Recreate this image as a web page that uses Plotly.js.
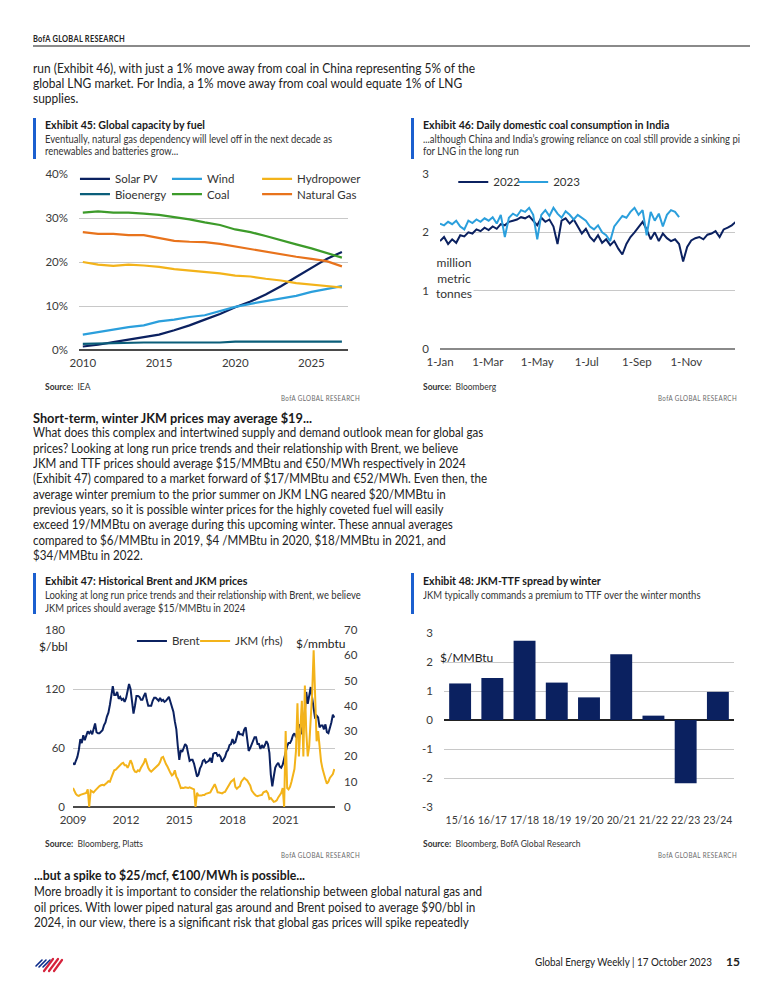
<!DOCTYPE html>
<html><head><meta charset="utf-8">
<script src="https://cdn.plot.ly/plotly-3.0.1.min.js"></script>
<style>
html,body{margin:0;padding:0;background:#fff;}
#page{position:relative;width:775px;height:1003px;overflow:hidden;background:#fff;font-family:Lato,"Liberation Sans",sans-serif;color:#222;}
.t{position:absolute;white-space:nowrap;width:max-content;transform-origin:0 0;}
.t > div{width:max-content;}
.bar{position:absolute;width:3px;background:#1b5fcf;}
.chart{position:absolute;}
.ttl{font-weight:bold;font-size:12px;line-height:14px;color:#1a1a1a;}
.sub{font-size:11px;line-height:12.8px;color:#333;}
.src{font-size:8.5px;line-height:10px;color:#333;}
.bofa{font-size:8px;line-height:10px;color:#6a6a6a;letter-spacing:0.5px;}
.body{font-size:13.5px;color:#222;}
.head{font-weight:bold;font-size:14px;line-height:16px;color:#1a1a1a;}
</style></head>
<body><div id="page">

<div class="t" data-w="92" style="left:33px;top:34px;font-size:8.5px;line-height:10px;font-weight:bold;letter-spacing:0.3px;color:#222;">BofA GLOBAL RESEARCH</div>
<div style="position:absolute;left:33px;top:45px;width:717px;height:2px;background:#8a8a8a;"></div>

<div class="t body" data-w="442" style="left:33px;top:60.8px;line-height:15px;">
<div>run (Exhibit 46), with just a 1% move away from coal in China representing 5% of the</div>
<div>global LNG market. For India, a 1% move away from coal would equate 1% of LNG</div>
<div>supplies.</div>
</div>

<!-- Exhibit 45 -->
<div class="bar" style="left:33px;top:118px;height:41px;"></div>
<div class="t ttl" id="ttl45" data-w="160" style="left:45px;top:118px;">Exhibit 45: Global capacity by fuel</div>
<div class="t sub" id="sub45" data-w="287" style="left:45px;top:132.6px;">
<div>Eventually, natural gas dependency will level off in the next decade as</div>
<div>renewables and batteries grow...</div>
</div>
<div id="c45" class="chart" style="left:30px;top:165px;width:340px;height:215px;"></div>
<div class="t src" style="left:45px;top:382px;"><b>Source:</b>&nbsp; IEA</div>
<div class="t bofa" id="bofa45" data-w="79" style="left:281px;top:393px;">BofA GLOBAL RESEARCH</div>

<!-- Exhibit 46 -->
<div class="bar" style="left:411px;top:118px;height:41px;"></div>
<div class="t ttl" data-like="ttl45" style="left:423px;top:118px;">Exhibit 46: Daily domestic coal consumption in India</div>
<div class="t sub" data-w="317" style="left:423px;top:132.6px;">
<div>...although China and India’s growing reliance on coal still provide a sinking pi</div>
<div>for LNG in the long run</div>
</div>
<div id="c46" class="chart" style="left:405px;top:165px;width:345px;height:215px;"></div>
<div class="t src" style="left:423px;top:382px;"><b>Source:</b>&nbsp; Bloomberg</div>
<div class="t bofa" data-like="bofa45" style="left:658px;top:393px;">BofA GLOBAL RESEARCH</div>

<!-- Short-term -->
<div class="t head" data-w="279" style="left:33px;top:409.7px;">Short-term, winter JKM prices may average $19...</div>
<div class="t body" data-w="454" style="left:33px;top:425.3px;line-height:15.35px;">
<div>What does this complex and intertwined supply and demand outlook mean for global gas</div>
<div>prices? Looking at long run price trends and their relationship with Brent, we believe</div>
<div>JKM and TTF prices should average $15/MMBtu and €50/MWh respectively in 2024</div>
<div>(Exhibit 47) compared to a market forward of $17/MMBtu and €52/MWh. Even then, the</div>
<div>average winter premium to the prior summer on JKM LNG neared $20/MMBtu in</div>
<div>previous years, so it is possible winter prices for the highly coveted fuel will easily</div>
<div>exceed 19/MMBtu on average during this upcoming winter. These annual averages</div>
<div>compared to $6/MMBtu in 2019, $4 /MMBtu in 2020, $18/MMBtu in 2021, and</div>
<div>$34/MMBtu in 2022.</div>
</div>

<!-- Exhibit 47 -->
<div class="bar" style="left:33px;top:573px;height:41px;"></div>
<div class="t ttl" data-like="ttl45" style="left:45px;top:574px;">Exhibit 47: Historical Brent and JKM prices</div>
<div class="t sub" data-like="sub45" style="left:45px;top:589px;">
<div>Looking at long run price trends and their relationship with Brent, we believe</div>
<div>JKM prices should average $15/MMBtu in 2024</div>
</div>
<div id="c47" class="chart" style="left:30px;top:620px;width:340px;height:215px;"></div>
<div class="t src" style="left:45px;top:839px;"><b>Source:</b>&nbsp; Bloomberg, Platts</div>
<div class="t bofa" data-like="bofa45" style="left:281px;top:850px;">BofA GLOBAL RESEARCH</div>

<!-- Exhibit 48 -->
<div class="bar" style="left:411px;top:573px;height:41px;"></div>
<div class="t ttl" data-like="ttl45" style="left:423px;top:574px;">Exhibit 48: JKM-TTF spread by winter</div>
<div class="t sub" data-like="sub45" style="left:423px;top:589px;">
<div>JKM typically commands a premium to TTF over the winter months</div>
</div>
<div id="c48" class="chart" style="left:405px;top:620px;width:345px;height:215px;"></div>
<div class="t src" style="left:423px;top:839px;"><b>Source:</b>&nbsp; Bloomberg, BofA Global Research</div>
<div class="t bofa" data-like="bofa45" style="left:658px;top:850px;">BofA GLOBAL RESEARCH</div>

<!-- spike -->
<div class="t head" data-w="271" style="left:34px;top:867px;">...but a spike to $25/mcf, €100/MWh is possible...</div>
<div class="t body" data-w="448" style="left:34px;top:884.4px;line-height:15.2px;">
<div>More broadly it is important to consider the relationship between global natural gas and</div>
<div>oil prices. With lower piped natural gas around and Brent poised to average $90/bbl in</div>
<div>2024, in our view, there is a significant risk that global gas prices will spike repeatedly</div>
</div>

<!-- footer -->
<svg style="position:absolute;left:34px;top:955px;" width="30" height="18" viewBox="0 0 30 18">
<g stroke-linecap="round">
<line x1="2" y1="11" x2="8" y2="5" stroke="#0a2a8a" stroke-width="1.6"/>
<line x1="5" y1="12" x2="12" y2="5" stroke="#0a2a8a" stroke-width="1.6"/>
<line x1="9" y1="12" x2="16" y2="5" stroke="#0a2a8a" stroke-width="1.6"/>
<line x1="10" y1="16" x2="19" y2="4" stroke="#d6223b" stroke-width="2.2"/>
<line x1="15" y1="16" x2="24" y2="4" stroke="#d6223b" stroke-width="2.2"/>
<line x1="20" y1="16" x2="28" y2="5" stroke="#d6223b" stroke-width="2.2"/>
</g></svg>
<div class="t" data-w="177" style="left:535px;top:955px;font-size:12px;line-height:14px;color:#222;">Global Energy Weekly | 17 October 2023</div>
<div class="t" style="left:726px;top:955px;font-size:12px;line-height:14px;font-weight:bold;color:#222;">15</div>

</div>
<script>
// ---------- Exhibit 45 data ----------
const years45 = [2010,2011,2012,2013,2014,2015,2016,2017,2018,2019,2020,2021,2022,2023,2024,2025,2026,2027];
const solarPV = [0.8,1.2,1.8,2.4,3.0,3.5,4.5,5.6,6.9,8.2,9.7,11.0,12.6,14.5,16.6,18.7,20.7,22.3];
const wind = [3.5,4.1,4.7,5.2,5.6,6.5,6.9,7.5,7.9,8.8,9.8,10.5,11.1,11.7,12.3,13.2,13.9,14.5];
const hydropower = [20.0,19.4,19.1,19.4,19.2,18.9,18.4,18.1,17.8,17.4,16.9,16.7,16.2,15.8,15.2,14.9,14.6,14.2];
const bioenergy = [1.4,1.5,1.6,1.6,1.7,1.7,1.7,1.7,1.7,1.7,1.9,1.9,1.9,1.9,1.9,1.9,1.9,1.9];
const coal = [31.2,31.5,31.2,31.2,31.0,30.7,30.2,29.7,29.0,28.4,27.4,26.8,25.9,24.9,24.0,23.1,22.1,21.0];
const naturalGas = [26.8,26.4,26.4,26.1,26.1,25.4,24.8,24.6,24.5,24.1,23.5,22.9,22.3,21.8,21.2,20.7,20.2,19.0];

// ---------- Exhibit 46 data (million metric tonnes, every 5 days from 1-Jan) ----------
const coal2022 = [1.85,1.92,1.80,1.88,1.82,1.95,1.93,2.00,1.98,2.05,
 2.02,2.08,2.04,2.10,2.06,2.14,2.12,2.18,2.20,2.22,
 2.26,2.24,2.28,2.20,2.12,2.25,2.18,2.22,2.10,1.80,
 2.20,2.24,2.15,2.22,2.10,1.98,2.06,1.92,1.85,1.95,
 1.82,1.88,1.78,1.85,1.72,1.62,1.80,1.92,2.00,2.10,
 2.18,2.05,1.88,2.00,1.85,1.98,1.90,1.85,1.88,1.80,
 1.50,1.75,1.86,1.90,1.92,1.88,1.96,1.98,2.02,1.92,
 2.05,2.08,2.12,2.18];
const coal2023 = [2.15,2.12,2.18,2.14,2.20,2.10,2.05,2.20,2.16,2.22,
 2.18,2.24,2.20,2.26,2.15,2.30,1.92,2.25,2.32,2.28,
 2.38,2.35,2.42,2.30,1.88,2.30,2.38,2.28,2.42,2.32,
 2.25,2.36,2.30,2.22,2.30,2.25,2.20,2.10,2.05,2.12,
 2.00,1.95,1.85,2.10,2.20,2.28,2.25,2.35,2.42,2.30,
 2.38,1.95,2.35,2.20,2.32,2.10,2.30,2.38,2.35,2.26];
const coalStart = '2022-01-01';
const coalStepDays = 5;

// ---------- Exhibit 47 data (monthly from Jan 2009) ----------
const brent = [
 45,43,47,51,58,69,65,73,68,73,77,75,
 77,74,79,85,76,75,75,77,78,83,86,92,
 96,104,114,123,114,114,117,110,112,109,110,107,
 111,119,125,120,110,95,103,113,113,112,109,109,
 113,116,109,103,103,103,108,111,111,109,108,111,
 108,109,107,108,110,112,107,102,97,87,79,62,
 48,58,56,60,64,62,56,47,48,48,44,38,
 31,33,39,42,47,48,45,46,47,50,45,54,
 55,55,52,53,51,46,49,51,56,58,63,64,
 69,65,66,72,77,74,74,73,79,81,65,57,
 60,64,67,71,71,64,64,59,63,60,63,67,
 64,55,33,21,31,40,43,45,41,40,43,50,
 55,62,65,65,68,73,75,71,74,84,81,74,
 87,97,117,105,113,122,111,100,90,93,91,81,
 83,83,79,84,76,75,80,86,94,91];
const jkm = [
 7.5,6.2,5.2,4.6,4.4,4.8,5.0,5.3,5.2,5.6,7.0,0,
 6.5,6.0,5.8,6.5,7.2,7.8,8.3,8.6,8.8,8.6,9.0,9.6,
 10.2,10.0,11.5,13.5,14.5,14.8,15.5,16.0,16.8,17.2,17.5,16.5,
 16.5,15.5,16.8,18.5,17.2,15.0,14.0,13.8,14.5,14.2,15.5,16.5,
 17.5,19.2,17.0,15.5,14.5,14.0,14.5,15.0,15.5,16.0,16.8,17.8,
 19.5,19.8,18.0,17.0,16.0,14.5,13.5,12.5,13.0,14.5,12.0,11.0,
 9.5,7.5,7.6,7.5,7.8,7.6,7.5,7.8,7.5,7.2,7.0,0,
 5.6,4.5,4.4,4.5,4.7,4.7,5.2,5.4,5.5,5.8,6.9,8.0,
 9.0,7.5,5.8,5.7,5.5,5.4,5.8,6.0,7.0,8.0,9.5,10.0,
 10.5,11.0,8.0,7.2,7.8,8.2,10.0,10.8,11.5,11.0,10.5,9.5,
 8.5,6.5,5.5,5.0,4.5,4.3,4.5,4.8,4.8,5.8,6.0,6.3,
 5.5,3.2,3.5,2.5,2.0,2.2,2.6,3.8,4.5,5.5,7.5,0,
 30,7.5,7.0,8.0,10.0,12.5,15.0,22.0,41.0,20.0,33.0,42.0,
 20.0,48.0,30.0,20.0,24.0,33.0,45.0,62.0,38.0,26.0,30.0,24.0,
 18.0,15.0,12.5,11.0,9.2,10.0,11.5,12.5,13.0,15.0];
const priceStartYear = 2009;

// ---------- Exhibit 48 data ----------
const winters = ['15/16','16/17','17/18','18/19','19/20','20/21','21/22','22/23','23/24'];
const spread = [1.26,1.45,2.73,1.29,0.78,2.27,0.15,-2.18,0.97];
const spreadTicks = [-3,-2,-1,0,1,2,3];
const spreadTickText = ['-3','-2','-1','0','1','2','3'];

// ---------- styles ----------
const FONT = 'Lato, "Liberation Sans", sans-serif';
const TICK = {family: FONT, size: 11.5, color: '#3a3a3a'};
const LEG = {family: FONT, size: 11.5, color: '#333'};
const GRID = '#c8c8c8';
const NAVY = '#0b2160', LBLUE = '#2b9fdc', GOLD = '#f3b31a', TEAL = '#0b5e7a', GREEN = '#3d9b2a', ORANGE = '#e8731c';
const cfg = {staticPlot: true, displayModeBar: false};

function monthDates(y0, n) {
  const out = [];
  for (let i = 0; i < n; i++) {
    const y = y0 + Math.floor(i / 12), m = (i % 12) + 1;
    out.push(y + '-' + String(m).padStart(2, '0') + '-01');
  }
  return out;
}

function fitText() {
  const scales = {};
  document.querySelectorAll('[data-w]').forEach(el => {
    const w = el.getBoundingClientRect().width;
    const s = parseFloat(el.dataset.w) / w;
    if (el.id) scales[el.id] = s;
    el.style.transform = 'scaleX(' + s + ')';
  });
  document.querySelectorAll('[data-like]').forEach(el => {
    const s = scales[el.dataset.like];
    if (s) el.style.transform = 'scaleX(' + s + ')';
  });
}

function legendAt(x, y) {
  return {orientation: 'h', x: x, xanchor: 'left', y: y, yanchor: 'middle',
    font: LEG, bgcolor: 'rgba(0,0,0,0)'};
}

function draw() {
  // Exhibit 45
  const mk = (y, name, color, leg) => ({x: years45, y: y, name: name, type: 'scatter', mode: 'lines',
    line: {color: color, width: 2.2}, legend: leg});
  const col1 = -0.015, col2 = 0.327, col3 = 0.662, row1 = 0.972, row2 = 0.886;
  Plotly.newPlot('c45', [
    mk(solarPV, 'Solar PV', NAVY, 'legend'),
    mk(wind, 'Wind', LBLUE, 'legend2'),
    mk(hydropower, 'Hydropower', GOLD, 'legend3'),
    mk(bioenergy, 'Bioenergy', TEAL, 'legend4'),
    mk(coal, 'Coal', GREEN, 'legend5'),
    mk(naturalGas, 'Natural Gas', ORANGE, 'legend6')
  ], {
    width: 340, height: 215, margin: {l: 49, r: 22, t: 9, b: 30, autoexpand: false},
    paper_bgcolor: 'white', plot_bgcolor: 'white', font: {family: FONT},
    xaxis: {range: [2009.75, 2027.4], tick0: 2010, dtick: 5, showgrid: false, zeroline: false,
      tickfont: TICK, ticks: '', ticklabelstandoff: 4},
    yaxis: {range: [0, 40], dtick: 10, ticksuffix: '%', gridcolor: GRID, gridwidth: 1,
      zeroline: true, zerolinecolor: '#4a4a4a', zerolinewidth: 1.5, tickfont: TICK, ticklabelstandoff: 10},
    legend: legendAt(col1, row1), legend2: legendAt(col2, row1), legend3: legendAt(col3, row1),
    legend4: legendAt(col1, row2), legend5: legendAt(col2, row2), legend6: legendAt(col3, row2),
    showlegend: true
  }, cfg);

  // Exhibit 46
  const step = coalStepDays * 86400000;
  Plotly.newPlot('c46', [
    {x0: coalStart, dx: step, y: coal2022, name: '2022', type: 'scatter', mode: 'lines', line: {color: NAVY, width: 2}, legend: 'legend'},
    {x0: coalStart, dx: step, y: coal2023, name: '2023', type: 'scatter', mode: 'lines', line: {color: LBLUE, width: 2}, legend: 'legend2'}
  ], {
    width: 345, height: 215, margin: {l: 35, r: 15, t: 9, b: 31, autoexpand: false},
    paper_bgcolor: 'white', plot_bgcolor: 'white', font: {family: FONT},
    xaxis: {type: 'date', range: ['2022-01-01', '2022-12-31'], tick0: '2022-01-01', dtick: 'M2',
      tickformat: '%-d-%b', showgrid: false, zeroline: false, tickfont: TICK, ticks: '', ticklabelstandoff: 4},
    yaxis: {range: [0, 3], dtick: 1, gridcolor: GRID, zeroline: true, zerolinecolor: '#8a8a8a',
      zerolinewidth: 1.5, tickfont: TICK, ticklabelstandoff: 10},
    legend: legendAt(0.045, 0.955), legend2: legendAt(0.248, 0.955),
    showlegend: true,
    annotations: [{xref: 'x', yref: 'y', x: '2022-01-18', y: 1.22, xanchor: 'center', yanchor: 'middle',
      text: 'million<br>metric<br>tonnes', showarrow: false, bgcolor: 'white',
      font: {family: FONT, size: 12, color: '#333'}, align: 'center'}]
  }, cfg);

  // Exhibit 47
  const dates = monthDates(priceStartYear, brent.length);
  Plotly.newPlot('c47', [
    {x: dates, y: brent, name: 'Brent', type: 'scatter', mode: 'lines', line: {color: NAVY, width: 2}, legend: 'legend'},
    {x: dates, y: jkm, name: 'JKM (rhs)', type: 'scatter', mode: 'lines', yaxis: 'y2', line: {color: GOLD, width: 2}, legend: 'legend2'}
  ], {
    width: 340, height: 215, margin: {l: 43, r: 35, t: 10, b: 28, autoexpand: false},
    paper_bgcolor: 'white', plot_bgcolor: 'white', font: {family: FONT},
    xaxis: {type: 'date', range: ['2009-01-01', '2023-10-15'], tick0: '2009-01-01', dtick: 'M36',
      tickformat: '%Y', showgrid: false, zeroline: false, tickfont: TICK, ticks: '', ticklabelstandoff: 4},
    yaxis: {range: [0, 180], dtick: 60, gridcolor: GRID, zeroline: true, zerolinecolor: '#4a4a4a',
      zerolinewidth: 1.5, tickfont: TICK, ticklabelstandoff: 7},
    yaxis2: {range: [0, 70], dtick: 10, overlaying: 'y', side: 'right', showgrid: false, zeroline: false,
      tickfont: TICK, ticklabelstandoff: 8},
    legend: legendAt(0.225, 0.938), legend2: legendAt(0.466, 0.938),
    showlegend: true,
    annotations: [
      {xref: 'paper', yref: 'paper', x: -0.076, y: 0.904, xanchor: 'center', yanchor: 'middle', text: '$/bbl',
        showarrow: false, font: {family: FONT, size: 12, color: '#222'}},
      {xref: 'paper', yref: 'paper', x: 0.943, y: 0.921, xanchor: 'center', yanchor: 'middle', text: '$/mmbtu',
        showarrow: false, font: {family: FONT, size: 12, color: '#222'}}
    ]
  }, cfg);

  // Exhibit 48
  Plotly.newPlot('c48', [
    {x: winters, y: spread, type: 'bar', marker: {color: NAVY}, showlegend: false}
  ], {
    width: 345, height: 215, margin: {l: 39, r: 16, t: 13, b: 28, autoexpand: false},
    paper_bgcolor: 'white', plot_bgcolor: 'white', font: {family: FONT}, bargap: 0.32,
    xaxis: {type: 'category', showgrid: false, zeroline: false, tickfont: {family: FONT, size: 10.5, color: '#3a3a3a'},
      tickangle: 0, ticks: '', ticklabelstandoff: 5},
    yaxis: {range: [-3, 3], tickvals: spreadTicks, ticktext: spreadTickText, gridcolor: GRID,
      zeroline: true, zerolinecolor: '#222', zerolinewidth: 1.5, tickfont: TICK, ticklabelstandoff: 10},
    annotations: [{xref: 'paper', yref: 'y', x: -0.02, xanchor: 'left', yanchor: 'middle', y: 2.15, text: '$/MMBtu',
      showarrow: false, font: {family: FONT, size: 12, color: '#222'}}]
  }, cfg);
}

(document.fonts ? document.fonts.ready : Promise.resolve()).then(() => { fitText(); draw(); });
</script>
</body></html>
